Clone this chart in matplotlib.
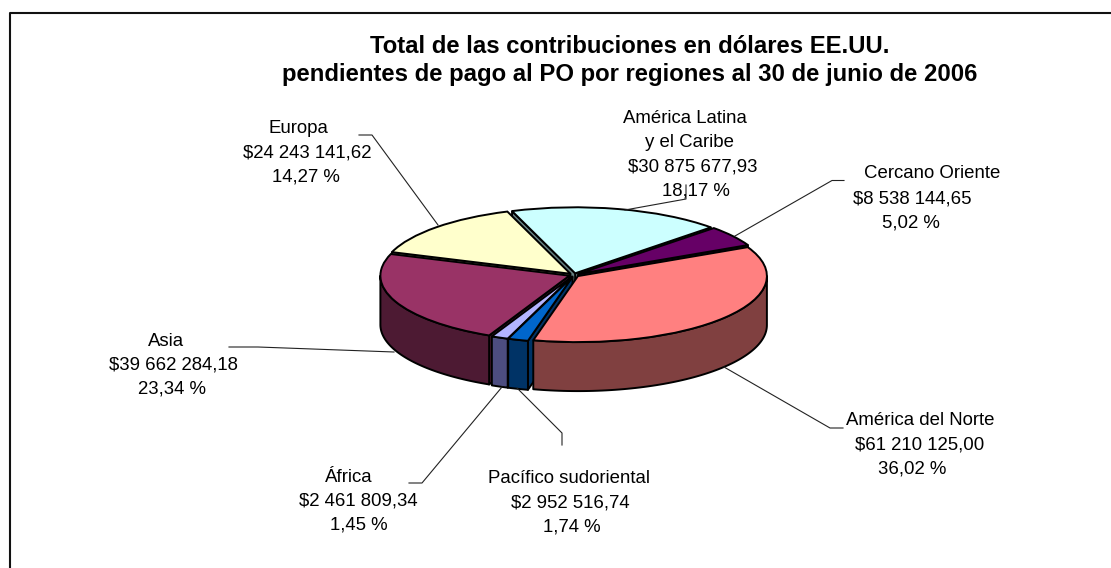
import matplotlib
matplotlib.use("Agg")
import matplotlib.pyplot as plt
import numpy as np
from matplotlib.patches import Polygon

plt.rcParams['font.family'] = ['Liberation Sans', 'DejaVu Sans']

regions = ["América Latina y el Caribe", "Cercano Oriente", "América del Norte",
           "Pacífico sudoriental", "África", "Asia", "Europa"]
amounts = [30875677.93, 8538144.65, 61210125.00, 2952516.74, 2461809.34, 39662284.18, 24243141.62]
top_colors = ["#CCFFFF", "#660066", "#FF8080", "#0066CC", "#B4B4FF", "#993366", "#FFFFCC"]
wall_colors = ["#668080", "#330033", "#804040", "#003366", "#4D4D80", "#4D1A33", "#808066"]

title_lines = ["Total de las contribuciones en dólares EE.UU.",
               "pendientes de pago al PO por regiones al 30 de junio de 2006"]

# text line, centre x, baseline y in pixels
label_lines = [
    ("Europa", 298, 133), ("$24 243 141,62", 307.5, 157), ("14,27 %", 306, 182),
    ("América Latina", 684.5, 123), ("y el Caribe", 689.5, 147), ("$30 875 677,93", 693, 171), ("18,17 %", 696, 195),
    ("Cercano Oriente", 932.5, 178), ("$8 538 144,65", 912.5, 203), ("5,02 %", 910.5, 227),
    ("Asia", 166, 346), ("$39 662 284,18", 173, 369), ("23,34 %", 171.5, 393),
    ("América del Norte", 920.5, 425), ("$61 210 125,00", 919.5, 449), ("36,02 %", 912, 473),
    ("África", 349, 482), ("$2 461 809,34", 358, 506), ("1,45 %", 359, 529),
    ("Pacífico sudoriental", 569.5, 483), ("$2 952 516,74", 570.5, 507), ("1,74 %", 571.5, 531),
]

leaders = [
    [(359, 135), (372, 135), (438, 225)],
    [(686, 185), (686, 199), (625, 210)],
    [(844, 180.5), (832, 180.5), (735, 236)],
    [(724, 367), (830, 428), (843, 428)],
    [(517, 388), (562, 433), (562, 445)],
    [(502, 387), (422, 483), (409, 483)],
    [(394, 352), (258, 347), (229, 347)],
]

SQUASH = 66 / 189.0
DEPTH = 49 / SQUASH
draw_order = [0, 1, 6, 5, 4, 3, 2]

fig = plt.figure(figsize=(11.11, 5.68), dpi=100)

ax = fig.add_axes([0, 0, 1, 1])
wedges, _ = ax.pie(amounts, colors=top_colors, startangle=109.5, counterclock=False,
                   radius=189, center=(574, (568 - 275) / SQUASH), explode=[5] * len(amounts),
                   wedgeprops=dict(edgecolor='black', linewidth=1.4))
ax.set_aspect('auto')
ax.set_xlim(0, 1111)
ax.set_ylim(0, 568 / SQUASH)
ax.axis('off')


def draw_walls(w, color, z):
    cx, cy = w.center
    edge = dict(facecolor=color, edgecolor='black', linewidth=1.4, zorder=z, joinstyle='round')
    # radial faces, only the ones turned to the viewer
    for ang, sign in ((w.theta1, -1), (w.theta2, 1)):
        t = np.radians(ang)
        if sign * np.cos(t) < 0:
            x, y = cx + w.r * np.cos(t), cy + w.r * np.sin(t)
            ax.add_patch(Polygon([(cx, cy), (x, y), (x, y - DEPTH), (cx, cy - DEPTH)], **edge))
    # outer wall, lower half of the ellipse only (pie angles can run negative)
    for lo, hi in ((-180, 0), (180, 360), (540, 720)):
        a, b = max(w.theta1, lo), min(w.theta2, hi)
        if b > a:
            t = np.radians(np.linspace(a, b, 80))
            x, y = cx + w.r * np.cos(t), cy + w.r * np.sin(t)
            pts = np.r_[np.c_[x, y], np.c_[x[::-1], y[::-1] - DEPTH]]
            ax.add_patch(Polygon(pts, **edge))


for z, i in enumerate(draw_order):
    draw_walls(wedges[i], wall_colors[i], 2 * z + 2)
    wedges[i].set_zorder(2 * z + 3)

over = fig.add_axes([0, 0, 1, 1], facecolor='none')
over.set_xlim(0, 1111)
over.set_ylim(568, 0)
over.axis('off')

# chart frame, the right and bottom sides are cut off in the reference
over.plot([9.5, 9.5, 1111], [568, 13, 13], color='#111111', lw=1.5, clip_on=False)

for pts in leaders:
    over.plot(*zip(*pts), color='#222222', lw=0.8)

for line, y in zip(title_lines, (53, 81)):
    over.text(630, y, line, ha='center', va='baseline', fontsize=17.2, fontweight='bold')
for line, x, y in label_lines:
    over.text(x, y, line, ha='center', va='baseline', fontsize=13.4, color='black')

fig.savefig('out.png', dpi=100)
